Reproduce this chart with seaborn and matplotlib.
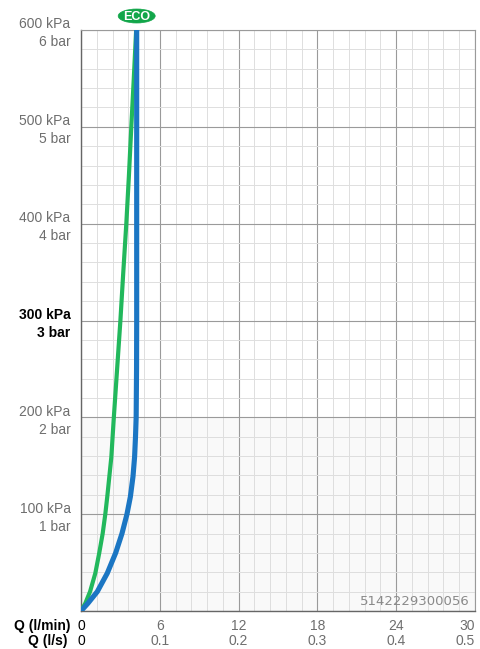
import numpy as np
import pandas as pd
import matplotlib
matplotlib.use("Agg")
import matplotlib.pyplot as plt
from matplotlib.patches import Ellipse
from matplotlib.ticker import MultipleLocator
import seaborn as sns

# -----------------------------
# Data
# -----------------------------
green_kpa = [0, 8, 20, 39, 60, 80, 100, 118, 159, 200, 250, 300, 350, 400, 450, 500, 550, 600]
green_lmin = [0, 0.33, 0.69, 1.09, 1.39, 1.65, 1.85, 2.00, 2.31, 2.50, 2.75, 3.00, 3.22, 3.45, 3.65, 3.83, 4.02, 4.20]

blue_kpa = [0, 8, 20, 39, 60, 80, 100, 118, 139, 159, 180, 200, 250, 300, 400, 500, 600]
blue_lmin = [0, 0.53, 1.24, 2.00, 2.64, 3.12, 3.50, 3.76, 3.96, 4.08, 4.15, 4.20, 4.23, 4.24, 4.24, 4.24, 4.24]

x_lmin = [0, 6, 12, 18, 24, 30]
x_ls = ["0", "0.1", "0.2", "0.3", "0.4", "0.5"]
y_kpa = [0, 100, 200, 300, 400, 500, 600]
y_bar = ["", "1 bar", "2 bar", "3 bar", "4 bar", "5 bar", "6 bar"]
code_text = "5142229300056"

GREEN = "#22b85c"
BLUE = "#1b76c3"
ECO_GREEN = "#12a64a"
GRAY_TXT = "#6e6e6e"

sns.set_style("white")
plt.rcParams["font.family"] = ["Liberation Sans", "DejaVu Sans"]

fig = plt.figure(figsize=(4.8, 6.49), dpi=100)
ax = fig.add_axes([81 / 480, 38 / 649, 394 / 480, 581 / 649])

green_df = pd.DataFrame({"q": green_lmin, "p": green_kpa})
blue_df = pd.DataFrame({"q": blue_lmin, "p": blue_kpa})

# estimator=None so repeated x values are not averaged away
sns.lineplot(data=green_df, x="q", y="p", sort=False, estimator=None,
             color=GREEN, lw=3.0, ax=ax, zorder=4,
             solid_capstyle="butt", solid_joinstyle="round")
sns.lineplot(data=blue_df, x="q", y="p", sort=False, estimator=None,
             color=BLUE, lw=3.7, ax=ax, zorder=5,
             solid_capstyle="butt", solid_joinstyle="round")

ax.set_xlim(0, 30)
ax.set_ylim(0, 600)
ax.axhspan(0, 200, color="#f9f9f9", zorder=0, lw=0)

# grid
ax.xaxis.set_major_locator(MultipleLocator(6))
ax.xaxis.set_minor_locator(MultipleLocator(1.2))
ax.yaxis.set_major_locator(MultipleLocator(100))
ax.yaxis.set_minor_locator(MultipleLocator(20))
ax.grid(which="major", color="#9a9a9a", lw=0.8, zorder=1)
ax.grid(which="minor", color="#dedede", lw=0.7, zorder=1)
ax.set_axisbelow(True)

for side in ["top", "right"]:
    ax.spines[side].set_color("#9a9a9a")
    ax.spines[side].set_linewidth(0.8)
for side in ["left", "bottom"]:
    ax.spines[side].set_color("#666666")
    ax.spines[side].set_linewidth(1.0)

ax.tick_params(which="major", length=4, width=0.8, color="#888888")
ax.tick_params(axis="x", which="major", pad=2)
ax.tick_params(which="minor", length=0)

# y labels
ax.set_yticks(y_kpa)
ylabels = []
for k, b in zip(y_kpa, y_bar):
    ylabels.append("" if k == 0 else f"{k} kPa\n{b}")
ax.set_yticklabels(ylabels, fontsize=10, color=GRAY_TXT, linespacing=1.35,
                   ha="right")
for lab, k in zip(ax.get_yticklabels(), y_kpa):
    if k == 300:
        lab.set_color("black")
        lab.set_fontweight("bold")

# x labels
ax.set_xticks(x_lmin)
ax.set_xticklabels([f"{a}\n{b}" for a, b in zip(x_lmin, x_ls)], fontsize=10,
                   color=GRAY_TXT, linespacing=1.1)
ax.get_xticklabels()[0].set_color("black")
ax.get_xticklabels()[-1].set_horizontalalignment("right")

ax.set_xlabel("")
ax.set_ylabel("")

fig.text(70 / 480, 1 - 626 / 649, "Q (l/min)", ha="right", va="center",
         fontsize=10, fontweight="bold", color="black")
fig.text(67 / 480, 1 - 641 / 649, "Q (l/s)", ha="right", va="center",
         fontsize=10, fontweight="bold", color="black")

# ECO badge
px_x = 30 / 394
px_y = 600 / 581
eco = Ellipse((4.24, 600 + 14 * px_y), 37 * px_x, 14 * px_y, fc=ECO_GREEN,
              ec=ECO_GREEN, lw=0.5, clip_on=False, zorder=6)
ax.add_patch(eco)
ax.text(4.24, 600 + 14 * px_y, "ECO", ha="center", va="center_baseline",
        fontsize=9, fontweight="bold", color="white", zorder=7, clip_on=False)

# article code
ax.text(0.987, 0.006, code_text, transform=ax.transAxes, ha="right",
        va="bottom", fontsize=9.5, color="#8a8a8a", family="DejaVu Sans",
        zorder=6)

fig.savefig("out.png", dpi=100)
